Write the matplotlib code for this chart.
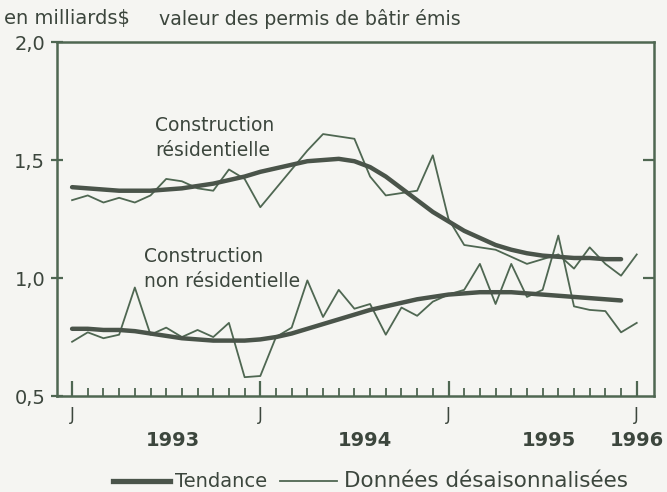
import numpy as np
import matplotlib
matplotlib.use("Agg")
import matplotlib.pyplot as plt

# month index 0 = Jan 1993, 36 = Jan 1996
months_raw = np.arange(37)
months_trend = np.arange(36)

res_raw = [1.33, 1.35, 1.32, 1.34, 1.32, 1.35, 1.42, 1.41, 1.38, 1.37, 1.46, 1.42,
           1.30, 1.38, 1.46, 1.54, 1.61, 1.60, 1.59, 1.43, 1.35, 1.36, 1.37, 1.52,
           1.25, 1.14, 1.13, 1.12, 1.09, 1.06, 1.08, 1.10, 1.04, 1.13, 1.06, 1.01, 1.10]
res_trend = [1.385, 1.38, 1.375, 1.37, 1.37, 1.37, 1.375, 1.38, 1.39, 1.40, 1.415, 1.43,
             1.45, 1.465, 1.48, 1.495, 1.50, 1.505, 1.495, 1.47, 1.43, 1.38, 1.33, 1.28,
             1.24, 1.20, 1.17, 1.14, 1.12, 1.105, 1.095, 1.09, 1.085, 1.085, 1.08, 1.08]

nonres_raw = [0.73, 0.77, 0.745, 0.76, 0.96, 0.76, 0.79, 0.75, 0.78, 0.75, 0.81, 0.58,
              0.585, 0.75, 0.79, 0.99, 0.835, 0.95, 0.87, 0.89, 0.76, 0.875, 0.84, 0.90,
              0.93, 0.95, 1.06, 0.89, 1.06, 0.92, 0.95, 1.18, 0.88, 0.865, 0.86, 0.77, 0.81]
nonres_trend = [0.785, 0.785, 0.78, 0.78, 0.775, 0.765, 0.755, 0.745, 0.74, 0.735, 0.735, 0.735,
                0.74, 0.75, 0.765, 0.785, 0.805, 0.825, 0.845, 0.865, 0.88, 0.895, 0.91, 0.92,
                0.93, 0.935, 0.94, 0.94, 0.94, 0.935, 0.93, 0.925, 0.92, 0.915, 0.91, 0.905]

y_ticks = [0.5, 1.0, 1.5, 2.0]
y_labels = ["0,5", "1,0", "1,5", "2,0"]
year_labels = ["1993", "1994", "1995", "1996"]
year_pos = [6.4, 18.7, 30.4, 36.0]

plt.rcParams['font.family'] = ['DejaVu Sans']

bg = "#f5f5f2"
line_col = "#4f6752"
trend_col = "#4a544a"
text_col = "#3c463d"

fig = plt.figure(figsize=(6.67, 4.92), dpi=100, facecolor=bg)
ax = fig.add_axes([0.0855, 0.195, 0.895, 0.7196], facecolor=bg)

ax.plot(months_raw, res_raw, color=line_col, lw=1.3)
ax.plot(months_raw, nonres_raw, color=line_col, lw=1.3)
ax.plot(months_trend, res_trend, color=trend_col, lw=3.2, solid_capstyle='round')
ax.plot(months_trend, nonres_trend, color=trend_col, lw=3.2, solid_capstyle='round')

ax.set_xlim(-0.96, 37.1)
ax.set_ylim(0.5, 2.0)

for s in ax.spines.values():
    s.set_color(line_col)
    s.set_linewidth(1.8)

ax.set_yticks(y_ticks)
ax.set_yticklabels(y_labels, fontsize=14, color=text_col)
ax.tick_params(axis='y', direction='inout', length=9, width=1.6, color=line_col, pad=4)

# right side ticks point inward only, no labels
axr = ax.twinx()
axr.set_ylim(0.5, 2.0)
axr.set_yticks([1.0, 1.5])
axr.tick_params(axis='y', direction='in', length=8, width=1.6, color=line_col,
                labelright=False)
for s in axr.spines.values():
    s.set_visible(False)

ax.set_xticks([0, 12, 24, 36])
ax.set_xticklabels(["J", "J", "J", "J"], fontsize=12, color=text_col)
ax.set_xticks(months_raw, minor=True)
ax.tick_params(axis='x', which='major', direction='in', length=11, width=1.6,
               color=line_col, pad=7)
ax.tick_params(axis='x', which='minor', direction='in', length=6, width=1.3,
               color=line_col)

for lab, xp in zip(year_labels, year_pos):
    ax.text(xp, -0.125, lab, transform=ax.get_xaxis_transform(), ha='center',
            va='center', fontsize=14, fontweight='bold', color=text_col)

fig.text(0.006, 0.962, "en milliards$", fontsize=14, color=text_col, va='center')
fig.text(0.238, 0.962, "valeur des permis de bâtir émis", fontsize=13.7,
         color=text_col, va='center')

ax.text(5.3, 1.595, "Construction\nrésidentielle", fontsize=13.5, color=text_col,
        linespacing=1.4, va='center')
ax.text(4.6, 1.04, "Construction\nnon résidentielle", fontsize=13.5, color=text_col,
        linespacing=1.4, va='center')

# legend
fig.lines.append(plt.Line2D([0.17, 0.255], [0.022, 0.022], transform=fig.transFigure,
                            color=trend_col, lw=3.8))
fig.text(0.262, 0.022, "Tendance", fontsize=14, color=text_col, va='center')
fig.lines.append(plt.Line2D([0.42, 0.505], [0.022, 0.022], transform=fig.transFigure,
                            color=line_col, lw=1.3))
fig.text(0.515, 0.022, "Données désaisonnalisées", fontsize=15.5, color=text_col,
         va='center')

fig.savefig("out.png", dpi=100, facecolor=bg)
